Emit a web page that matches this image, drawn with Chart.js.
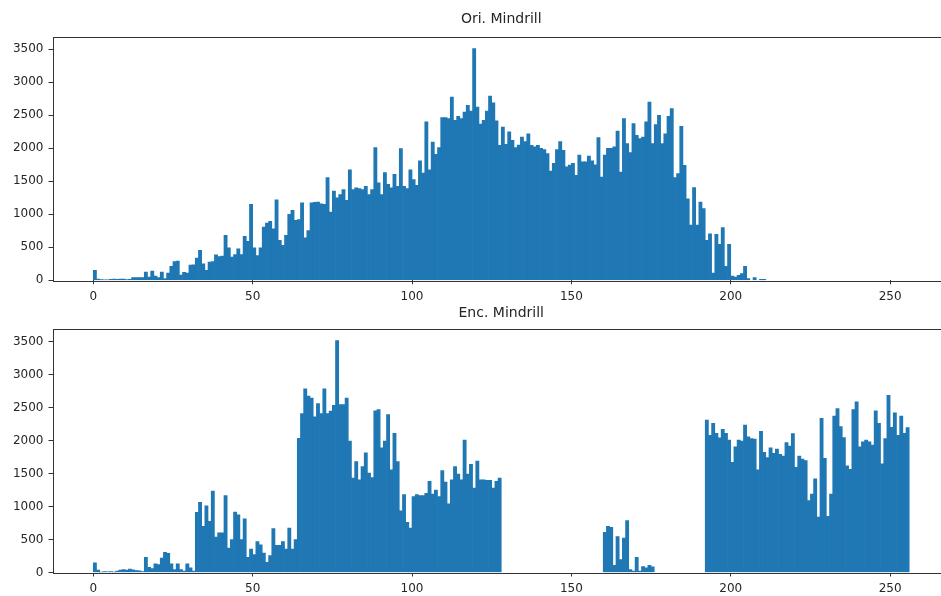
<!DOCTYPE html>
<html>
<head>
<meta charset="utf-8">
<script src="https://cdn.jsdelivr.net/npm/chart.js@4.4.1/dist/chart.umd.min.js"></script>
<style>
    html, body { margin: 0; padding: 0; background: #fff; overflow: hidden; width: 941px; height: 596px; }
    canvas { position: absolute; left: 0; }
    #oriChart { top: 0; }
    #encChart { top: 294px; }
</style>
</head>
<body>
<canvas id="oriChart" width="950" height="310" style="width:950px;height:310px"></canvas>
<canvas id="encChart" width="950" height="302" style="width:950px;height:302px"></canvas>
<script>
// Pixel value histograms, 256 bins (0..255), counts
const oriCounts = [].concat(
    [150, 20, 10, 5, 5, 15, 20, 15, 20, 20, 10, 15, 40, 40, 40, 40, 125, 50, 140, 65, 40, 125, 25, 110, 210, 285, 290, 80, 120, 110, 230, 235],
    [335, 455, 250, 150, 275, 285, 385, 360, 365, 680, 490, 350, 390, 475, 390, 665, 590, 1150, 490, 375, 490, 805, 865, 895, 780, 1220, 605, 530, 680, 1000, 1060, 910],
    [920, 1175, 645, 755, 1175, 1180, 1185, 1160, 1150, 1555, 1035, 1350, 1250, 1300, 1375, 1210, 1675, 1375, 1400, 1390, 1375, 1425, 1300, 1375, 2010, 1475, 1300, 1630, 1455, 1400, 1605, 1425],
    [1995, 1425, 1390, 1675, 1525, 1440, 1810, 1625, 2400, 1675, 2095, 1910, 2010, 2465, 2465, 2450, 2775, 2425, 2485, 2450, 2550, 2650, 2565, 3510, 2625, 2365, 2425, 2565, 2790, 2690, 2415, 2045],
    [2320, 2060, 2250, 2120, 2010, 2050, 2170, 2100, 2220, 2045, 2020, 2045, 2000, 1980, 1920, 1655, 1770, 1980, 2100, 1970, 1720, 1745, 1770, 1590, 1895, 1795, 1795, 1880, 1810, 1750, 2160, 1565],
    [1895, 2000, 2000, 2020, 2260, 1640, 2450, 2070, 1935, 2375, 2195, 2145, 2170, 2400, 2700, 2070, 2360, 2500, 2070, 2220, 2485, 2600, 1555, 1615, 2333, 1740, 1235, 835, 1405, 835, 1185, 1085],
    [605, 705, 110, 695, 545, 800, 210, 545, 65, 50, 75, 100, 210, 25, 0, 40, 0, 15, 15, 0, 0, 0, 0, 0, 0, 0, 0, 0, 0, 0, 0, 0],
    [0, 0, 0, 0, 0, 0, 0, 0, 0, 0, 0, 0, 0, 0, 0, 0, 0, 0, 0, 0, 0, 0, 0, 0, 0, 0, 0, 0, 0, 0, 0, 0]
);

const encCounts = [].concat(
    [145, 35, 5, 15, 10, 15, 5, 20, 35, 45, 35, 50, 40, 30, 25, 15, 230, 80, 60, 130, 120, 220, 305, 290, 130, 45, 130, 45, 20, 130, 70, 20],
    [910, 1065, 700, 1010, 775, 1235, 535, 600, 600, 1165, 370, 500, 915, 875, 500, 815, 230, 355, 270, 470, 420, 295, 155, 255, 665, 410, 410, 470, 355, 675, 355, 500],
    [2035, 2410, 2785, 2675, 2645, 2360, 2560, 2410, 2785, 2410, 2445, 2535, 3515, 2545, 2545, 2645, 1990, 1430, 1680, 1405, 1605, 1815, 1505, 1440, 2450, 2470, 1890, 1990, 2395, 1555, 2110, 1680],
    [935, 1180, 760, 675, 1150, 1180, 1165, 1165, 1200, 1380, 1190, 1250, 1150, 1545, 1370, 1040, 1405, 1605, 1490, 1405, 2005, 1490, 1640, 1280, 1690, 1405, 1405, 1395, 1395, 1280, 1380, 1430],
    [0, 0, 0, 0, 0, 0, 0, 0, 0, 0, 0, 0, 0, 0, 0, 0, 0, 0, 0, 0, 0, 0, 0, 0, 0, 0, 0, 0, 0, 0, 0, 0],
    [610, 700, 685, 110, 545, 195, 520, 785, 45, 20, 230, 20, 90, 70, 110, 85, 0, 0, 0, 0, 0, 0, 0, 0, 0, 0, 0, 0, 0, 0, 0, 0],
    [2310, 2080, 2260, 2110, 2040, 2170, 2110, 2005, 1670, 1905, 2005, 1990, 2235, 2055, 2030, 2020, 1555, 2140, 1820, 1740, 1890, 1805, 1870, 1790, 1765, 1970, 1915, 2105, 1595, 1765, 1720, 1695],
    [1090, 1190, 1420, 840, 2335, 1730, 850, 1190, 2370, 2485, 2210, 2045, 1615, 1565, 2470, 2585, 1905, 1980, 2005, 1980, 1930, 2450, 2260, 1645, 2030, 2685, 2200, 2420, 2080, 2370, 2110, 2195]
);

const xTicks = [0, 50, 100, 150, 200, 250];
const yTicks = [0, 500, 1000, 1500, 2000, 2500, 3000, 3500];

const FONT = 'DejaVu Sans';
const TEXT = '#262626';
const LINE = '#333333';
const BAR = '#1f77b4';

// matplotlib-like box round the axes
const framePlugin = {
    id: 'frame',
    afterDatasetsDraw(chart) {
        const a = chart.chartArea;
        const ctx = chart.ctx;
        ctx.save();
        ctx.strokeStyle = LINE;
        ctx.lineWidth = 1;
        ctx.strokeRect(Math.round(a.left) + 0.5, Math.round(a.top) + 0.5,
            Math.round(a.right - a.left), Math.round(a.bottom - a.top));
        ctx.restore();
    }
};

function makeHist(id, title, counts, titlePad, xAxisHeight) {
    // empty bins are left out so nothing is drawn on the baseline
    const points = counts.map((c, i) => ({ x: i + 0.5, y: c > 0 ? c : null }));
    new Chart(document.getElementById(id), {
        type: 'bar',
        data: {
            datasets: [{
                data: points,
                backgroundColor: BAR,
                borderWidth: 0,
                barPercentage: 1.0,
                categoryPercentage: 1.0
            }]
        },
        options: {
            responsive: false,
            animation: false,
            layout: { padding: 0 },
            plugins: {
                legend: { display: false },
                tooltip: { enabled: false },
                title: {
                    display: true,
                    text: title,
                    fullSize: false,
                    color: TEXT,
                    font: { family: FONT, size: 14, weight: 'normal' },
                    padding: titlePad
                }
            },
            scales: {
                x: {
                    type: 'linear',
                    offset: false,
                    min: -12.8,
                    max: 268.8,
                    afterBuildTicks: s => { s.ticks = xTicks.map(v => ({ value: v })); },
                    afterFit: s => { s.height = xAxisHeight; },
                    grid: { offset: false, drawOnChartArea: false, drawTicks: true, tickLength: 4, color: LINE },
                    border: { display: false },
                    ticks: {
                        color: TEXT, font: { family: FONT, size: 12 }, padding: 5, maxRotation: 0,
                        autoSkip: false, callback: v => String(v)
                    }
                },
                y: {
                    min: 0,
                    max: 3690,
                    afterBuildTicks: s => { s.ticks = yTicks.map(v => ({ value: v })); },
                    afterFit: s => { s.width = 52.5; },
                    grid: { drawOnChartArea: false, drawTicks: true, tickLength: 4, color: LINE },
                    border: { display: false },
                    ticks: { color: TEXT, font: { family: FONT, size: 12 }, padding: 5, callback: v => String(v) }
                }
            }
        },
        plugins: [framePlugin]
    });
}

makeHist('oriChart', 'Ori. Mindrill', oriCounts, { top: 10.6, bottom: 9.3 }, 29.7);
makeHist('encChart', 'Enc. Mindrill', encCounts, { top: 10.6, bottom: 7.6 }, 23.5);
</script>
</body>
</html>
